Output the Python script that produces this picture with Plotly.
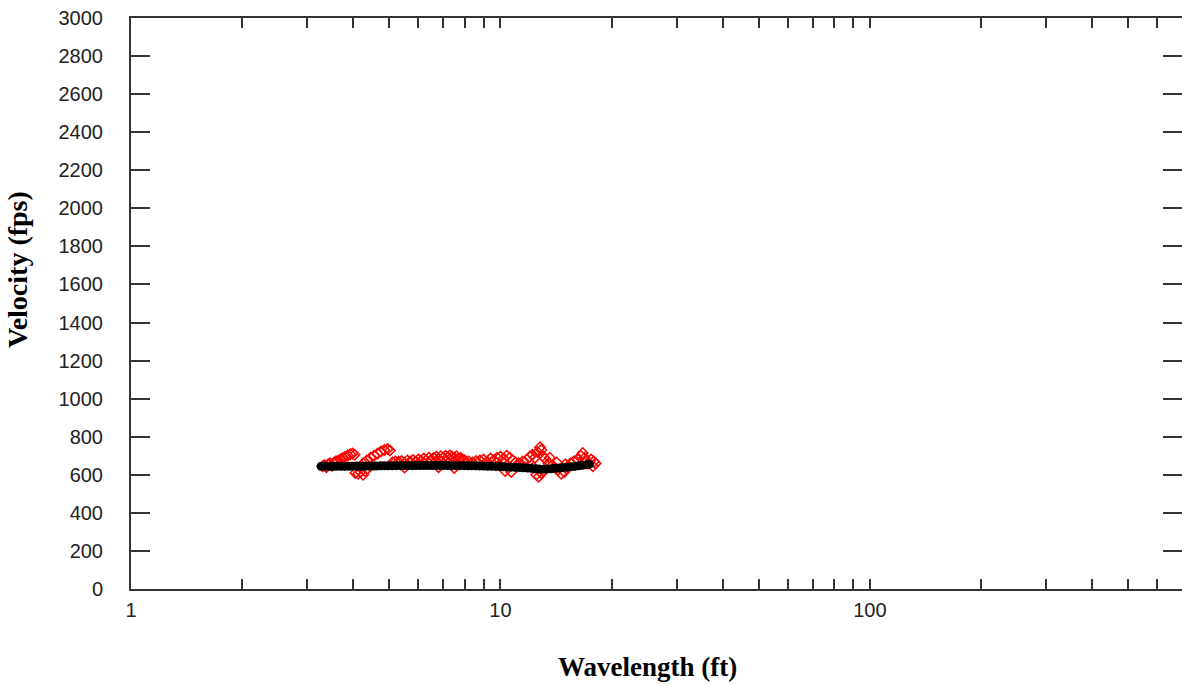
import plotly.graph_objects as go

# ---- data ----
black_x = [3.27, 3.35, 3.43, 3.52, 3.61, 3.70, 3.79, 3.89, 3.98, 4.08, 4.18, 4.29, 4.40, 4.51,
           4.62, 4.74, 4.85, 4.97, 5.10, 5.23, 5.36, 5.49, 5.63, 5.77, 5.91, 6.06, 6.21, 6.37,
           6.53, 6.69, 6.86, 7.03, 7.21, 7.39, 7.57, 7.76, 7.96, 8.16, 8.36, 8.57, 8.78, 9.00,
           9.23, 9.46, 9.70, 9.94, 10.19, 10.44, 10.70, 10.97, 11.25, 11.53, 11.82, 12.11, 12.41,
           12.72, 13.04, 13.37, 13.70, 14.05, 14.40, 14.76, 15.13, 15.50, 15.89, 16.29, 16.70,
           17.11, 17.40]
black_y = [645, 645, 644, 644, 645, 645, 644, 645, 645, 646, 645, 645, 646, 646,
           646, 647, 647, 647, 647, 648, 648, 648, 648, 648, 649, 649, 649, 649,
           649, 649, 649, 649, 649, 648, 648, 648, 648, 647, 647, 647, 646, 646,
           645, 645, 644, 643, 642, 641, 640, 639, 638, 637, 636, 634, 632,
           630, 629, 630, 632, 634, 636, 638, 640, 642, 644, 647, 650,
           653, 655]

red_x = [3.30, 3.34, 3.38, 3.42, 3.46, 3.50, 3.55, 3.58,
         3.62, 3.68, 3.74, 3.80, 3.86, 3.92, 3.98, 4.03,
         4.05, 4.12, 4.18, 4.25, 4.30, 4.36,
         4.25, 4.35, 4.45, 4.55, 4.65, 4.75, 4.85, 4.95, 5.02,
         5.1, 5.2, 5.3, 5.4, 5.5, 5.6, 5.7, 5.8, 5.9, 6.0, 6.1, 6.2, 6.3, 6.4, 6.5, 6.6,
         6.7, 6.8, 6.9, 7.0, 7.1, 7.2, 7.3, 7.4, 7.5, 7.6, 7.7, 7.8, 7.9, 8.0, 8.2, 8.4, 8.6,
         5.5, 6.8, 7.5,
         8.8, 9.0, 9.2, 9.4, 9.6, 9.8, 10.0, 10.2, 10.4, 10.6, 10.8, 11.0, 11.2, 10.3, 10.7,
         11.5, 11.8, 12.0, 12.2, 12.4, 12.6, 12.8, 12.9, 13.0, 13.2, 12.5, 12.7, 12.9, 13.1, 12.3,
         13.5, 13.8, 14.0, 14.3, 14.6, 14.9, 15.2, 15.5, 15.8, 13.6, 14.2, 15.0,
         16.2, 16.5, 16.7, 16.9, 17.1, 17.3, 17.6, 17.9, 18.1, 17.8]
red_y = [645, 650, 640, 655, 660, 648, 665, 670,
         672, 680, 688, 695, 702, 708, 712, 705,
         610, 605, 615, 600, 620, 630,
         660, 675, 690, 700, 712, 722, 730, 735, 728,
         665, 670, 668, 672, 660, 675, 670, 678, 668, 680, 672, 685, 675, 690, 680, 688,
         695, 682, 698, 690, 700, 692, 702, 695, 690, 698, 685, 688, 680, 676, 670, 665, 672,
         638, 640, 636,
         675, 680, 670, 685, 678, 690, 695, 685, 700, 690, 675, 665, 660, 620, 615,
         670, 680, 695, 705, 690, 720, 745, 730, 700, 685, 600, 590, 610, 620, 640,
         660, 650, 640, 625, 605, 615, 640, 660, 670, 690, 665, 655,
         680, 700, 715, 690, 670, 660, 680, 670, 660, 645]

x_tick_vals = [1, 2, 3, 4, 5, 6, 7, 8, 9, 10, 20, 30, 40, 50, 60, 70, 80, 90,
               100, 200, 300, 400, 500, 600]
x_tick_text = ["1", "", "", "", "", "", "", "", "", "10", "", "", "", "", "", "", "", "",
               "100", "", "", "", "", ""]
y_tick_vals = list(range(0, 3001, 200))

AXIS_COLOR = "#333333"
TICK_FONT = dict(family="Liberation Sans, Arial, sans-serif", size=20, color="#222222")
XTITLE_FONT = dict(family="Liberation Serif, Times New Roman, serif", size=27, color="#000000")
YTITLE_FONT = dict(family="Liberation Serif, Times New Roman, serif", size=28, color="#000000")

fig = go.Figure()
fig.add_trace(go.Scatter(
    x=red_x, y=red_y, mode="markers",
    marker=dict(symbol="diamond-open", color="#ff0000", size=8, line=dict(width=1.5, color="#ff0000")),
    showlegend=False, hoverinfo="skip"))
fig.add_trace(go.Scatter(
    x=black_x, y=black_y, mode="markers",
    marker=dict(symbol="circle", color="#000000", size=9),
    showlegend=False, hoverinfo="skip"))
# invisible trace to anchor the right-side tick axis
fig.add_trace(go.Scatter(x=[black_x[0]], y=[black_y[0]], yaxis="y2", mode="markers",
                         marker=dict(opacity=0), showlegend=False, hoverinfo="skip"))

fig.update_layout(
    width=1182, height=685,
    margin=dict(l=131, r=0, t=18, b=96),
    paper_bgcolor="#ffffff", plot_bgcolor="#ffffff",
    xaxis=dict(type="log", range=[0, 2.845],
               tickmode="array", tickvals=x_tick_vals, ticktext=x_tick_text,
               ticks="inside", ticklen=10, tickwidth=1.5, tickcolor=AXIS_COLOR,
               showline=True, linecolor=AXIS_COLOR, linewidth=2, mirror="ticks",
               showgrid=False, zeroline=False, tickfont=TICK_FONT, ticklabelstandoff=2),
    yaxis=dict(range=[0, 3000], tickmode="array", tickvals=y_tick_vals,
               ticks="inside", ticklen=19, tickwidth=1.5, tickcolor=AXIS_COLOR,
               showline=True, linecolor=AXIS_COLOR, linewidth=2,
               showgrid=False, zeroline=False, tickfont=TICK_FONT, ticklabelstandoff=22),
    yaxis2=dict(range=[0, 3000], overlaying="y", side="right", tickmode="array",
                tickvals=y_tick_vals, ticks="inside", ticklen=19, tickwidth=1.5,
                tickcolor=AXIS_COLOR, showticklabels=False, showline=False,
                showgrid=False, zeroline=False),
    annotations=[
        dict(text="<b>Wavelength (ft)</b>", xref="paper", yref="paper",
             x=0.491, y=-0.1366, xanchor="center", yanchor="middle",
             showarrow=False, font=XTITLE_FONT),
        dict(text="<b>Velocity (fps)</b>", xref="paper", yref="paper",
             x=-0.1075, y=0.5587, xanchor="center", yanchor="middle", textangle=-90,
             showarrow=False, font=YTITLE_FONT),
    ],
)

fig.write_html(
    "out.html",
    config={"displayModeBar": False},
    post_script="document.body.style.margin='0';document.body.style.overflow='hidden';",
)
